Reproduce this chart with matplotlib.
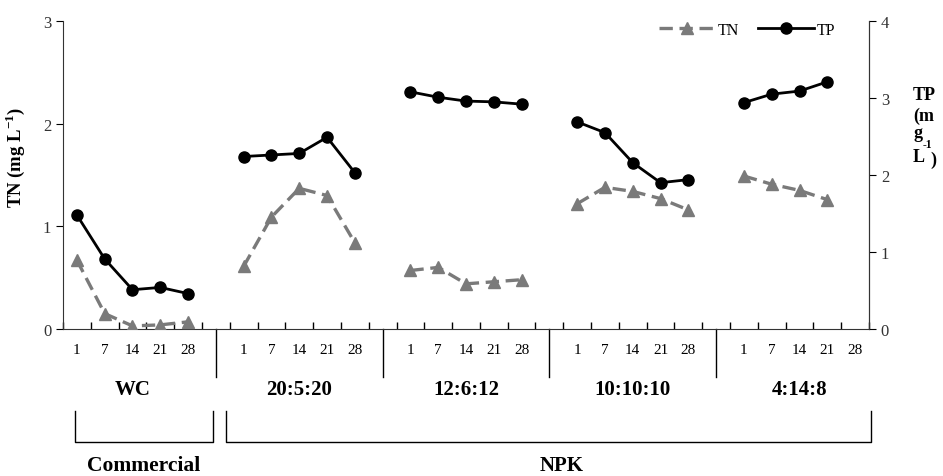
import matplotlib
matplotlib.use("Agg")
import matplotlib.pyplot as plt
import matplotlib.transforms as mtransforms
import numpy as np

plt.rcParams['font.family'] = ['Liberation Serif', 'DejaVu Serif']
plt.rcParams['mathtext.fontset'] = 'custom'
plt.rcParams['mathtext.rm'] = 'Liberation Serif:bold'
plt.rcParams['mathtext.bf'] = 'Liberation Serif:bold'

# ---- data ----
groups = ["WC", "20:5:20", "12:6:12", "10:10:10", "4:14:8"]
days = ["1", "7", "14", "21", "28"]
tn_wc = [0.67, 0.15, 0.03, 0.04, 0.07]
tn_2052 = [0.61, 1.09, 1.37, 1.30, 0.84]
tn_12612 = [0.57, 0.60, 0.44, 0.46, 0.48]
tn_101010 = [1.22, 1.38, 1.34, 1.27, 1.16]
tn_4148 = [1.49, 1.41, 1.35, 1.26, None]
tp_wc = [1.48, 0.91, 0.51, 0.54, 0.46]
tp_2052 = [2.24, 2.26, 2.28, 2.49, 2.03]
tp_12612 = [3.08, 3.01, 2.96, 2.95, 2.92]
tp_101010 = [2.69, 2.55, 2.16, 1.90, 1.94]
tp_4148 = [2.94, 3.05, 3.09, 3.21, None]
tn_all = [tn_wc, tn_2052, tn_12612, tn_101010, tn_4148]
tp_all = [tp_wc, tp_2052, tp_12612, tp_101010, tp_4148]

W, H = 943, 477
fig = plt.figure(figsize=(W / 100, H / 100), dpi=100)
ax = fig.add_axes([63 / W, 1 - 330 / H, 806 / W, 308 / H])
ax2 = ax.twinx()

tn_color = "#7a7a7a"
slot = 6
for g in range(len(groups)):
    xs = [g * slot + i for i in range(len(days))]
    tn = [v if v is not None else np.nan for v in tn_all[g]]
    tp = [v if v is not None else np.nan for v in tp_all[g]]
    l1, = ax.plot(xs, tn, color=tn_color, ls=(0, (4, 2)), lw=2.4, marker="^",
                  ms=8, mfc=tn_color, mec=tn_color, label="TN", zorder=3)
    l2, = ax2.plot(xs, tp, color="black", ls="-", lw=2, marker="o", ms=8,
                   mfc="black", mec="black", label="TP", zorder=3)

n_slots = slot * len(groups) - 1
ax.set_xlim(-0.5, n_slots - 0.5)
ax.set_ylim(0, 3)
ax2.set_ylim(0, 4)
ax.set_yticks([0, 1, 2, 3])
ax2.set_yticks([0, 1, 2, 3, 4])

# x ticks
major = []
labels = []
for g in range(len(groups)):
    for i, d in enumerate(days):
        major.append(g * slot + i)
        labels.append(d)
ax.set_xticks(major)
ax.set_xticklabels(labels, fontsize=11)
ax.set_xticks(np.arange(-0.5, n_slots, 1.0), minor=True)
ax.tick_params(axis="x", which="major", length=0, pad=10)
ax.tick_params(axis="x", which="minor", direction="in", length=5, width=1)
ax.tick_params(axis="y", direction="out", length=5, labelsize=12, labelcolor="#333333")
ax2.tick_params(axis="y", direction="out", length=5, labelsize=12, labelcolor="#333333")

for a in (ax, ax2):
    a.spines["top"].set_visible(False)
    for s in a.spines.values():
        s.set_color("#333333")
ax2.spines["left"].set_visible(False)
ax2.spines["bottom"].set_visible(False)

ax.set_ylabel("TN (mg L$^{-1}$)", fontsize=13.5, fontweight="bold")
ax.yaxis.set_label_coords((27 - 63) / 806, (330 - 157) / 308)

# right label stacked text
rk = dict(fontsize=13, fontweight="bold", ha="left", va="center")
fig.text(913 / W, 1 - 96 / H, "TP", **rk)
fig.text(913 / W, 1 - 116 / H, "(m", **rk)
fig.text(913 / W, 1 - 134 / H, "g", **rk)
fig.text(923 / W, 1 - 145 / H, "-1", fontsize=8.5, fontweight="bold", ha="left", va="center")
fig.text(913 / W, 1 - 157 / H, "L", **rk)
fig.text(930 / W, 1 - 160 / H, ")", **rk)

# separators and group labels
trans = mtransforms.blended_transform_factory(ax.transData, ax.transAxes)
for g in range(1, len(groups)):
    xsep = g * slot - 1
    ax.plot([xsep, xsep], [0, -48 / 308], color="black", lw=1, transform=trans, clip_on=False)
for g, name in enumerate(groups):
    xc = g * slot + 2
    ax.text(xc, -60 / 308, name, transform=trans, ha="center", va="center",
            fontsize=15, fontweight="bold")

# brackets (figure pixel coords)
def fx(x):
    return x / W

def fy(y):
    return 1 - y / H

for (x0, x1) in [(75, 213), (226, 871)]:
    fig.add_artist(plt.Line2D([fx(x0), fx(x0), fx(x1), fx(x1)],
                              [fy(412), fy(443), fy(443), fy(412)],
                              color="black", lw=1))
fig.text(fx(144), fy(466), "Commercial", fontsize=15.5, fontweight="bold", ha="center", va="center")
fig.text(fx(562), fy(466), "NPK", fontsize=15, fontweight="bold", ha="center", va="center")

leg = ax.legend([l1, l2], ["TN", "TP"], loc="center right",
                bbox_to_anchor=((835 - 63) / 806, (330 - 31) / 308),
                ncol=2, frameon=False, fontsize=11.5, handlelength=3.5,
                handletextpad=0.15, columnspacing=1.2, borderpad=0, borderaxespad=0)

fig.savefig("out.png", dpi=100, facecolor="white")
